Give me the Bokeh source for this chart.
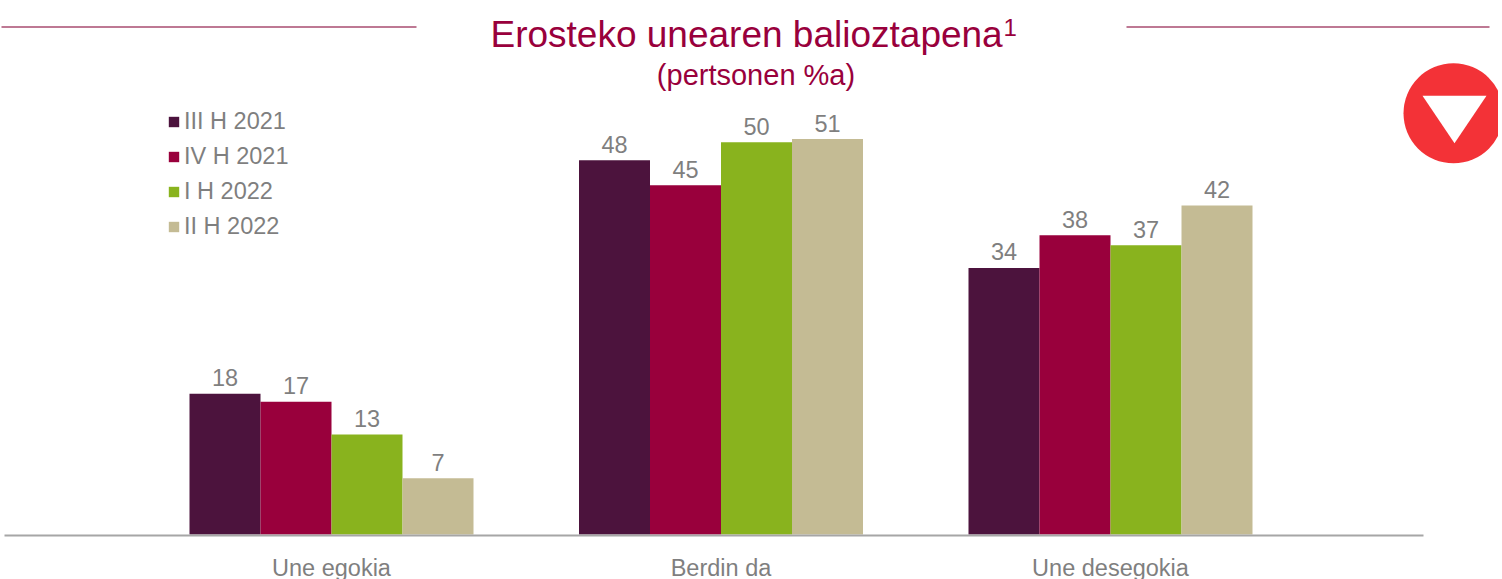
from bokeh.plotting import figure
from bokeh.models import ColumnDataSource, Range1d, FixedTicker, Legend, LegendItem
from bokeh.core.properties import value
from bokeh.embed import file_html
from bokeh.resources import INLINE

categories = ["Une egokia", "Berdin da", "Une desegokia"]
series_names = ["III H 2021", "IV H 2021", "I H 2022", "II H 2022"]
s_iii_2021 = [18.0, 47.9, 34.1]
s_iv_2021 = [17.0, 44.7, 38.3]
s_i_2022 = [12.8, 50.2, 37.0]
s_ii_2022 = [7.2, 50.6, 42.1]
title_text = "Erosteko unearen balioztapena"
sup_text = "1"
subtitle_text = "(pertsonen %a)"

all_series = [s_iii_2021, s_iv_2021, s_i_2022, s_ii_2022]
colors = ["#4C133D", "#99003C", "#89B31E", "#C4BB94"]
FONT = "Liberation Sans"
GREY = "#7F7F7F"
TITLE = "#99003C"
W, H = 1502, 587
BASE = 540
ZERO_PX = 539
PX_PER_VAL = 7.83
CAT0 = 335
STEP = 389.5
BAR = 71

def X(px):
    return (px - CAT0) / STEP

def Y(py):
    return (ZERO_PX - py) / PX_PER_VAL

p = figure(width=W, height=H, output_backend="svg", toolbar_location=None,
           x_range=Range1d(X(0), X(W)), y_range=Range1d(Y(BASE), Y(0)),
           min_border=0, min_border_left=0, min_border_right=0, min_border_top=0,
           min_border_bottom=H - BASE, outline_line_color=None, margin=(-4, -4, -8, -4))
p.yaxis.visible = False
p.grid.visible = False
ax = p.xaxis[0]
ax.ticker = FixedTicker(ticks=[0, 1, 2])
ax.major_label_overrides = {i: c for i, c in enumerate(categories)}
ax.bounds = (X(8), X(1427))
ax.axis_line_color = "#A6A6A6"
ax.axis_line_width = 2
ax.major_tick_line_color = None
ax.minor_tick_line_color = None
ax.major_label_text_font = FONT
ax.major_label_text_font_size = "23.5px"
ax.major_label_text_color = GREY
ax.major_label_standoff = 13

bw = BAR / STEP
items = []
for j, (name, vals, col) in enumerate(zip(series_names, all_series, colors)):
    xs = [i + (j - 1.5) * bw for i in range(len(categories))]
    src = ColumnDataSource(dict(x=xs, top=vals, label=[f"{v:.0f}" for v in vals]))
    r = p.vbar(x="x", top="top", bottom=0, width=bw, source=src, fill_color=col, line_color=None)
    p.text(x="x", y="top", text="label", source=src, text_font=value(FONT), text_font_size="23.5px",
           text_color=GREY, text_align="center", text_baseline="alphabetic", y_offset=-16)
    items.append(LegendItem(label=name, renderers=[r]))

leg = Legend(items=items, location=(171, BASE - 245), orientation="vertical",
             border_line_color=None, background_fill_alpha=0, padding=0, margin=0, spacing=8,
             glyph_width=13, glyph_height=13, label_standoff=4, label_height=20,
             label_text_font=FONT, label_text_font_size="23.5px", label_text_color=GREY)
p.add_layout(leg, "center")

def header(txt, px, py, size, align):
    p.text(x=[X(px)], y=[Y(py)], text=[txt], text_font=value(FONT), text_font_size=size,
           text_color=TITLE, text_align=align, text_baseline="alphabetic")

header(title_text, 494, 38, "37px", "left")
header(sup_text, 1007, 31, "24px", "left")
header(subtitle_text, 759.5, 79, "29px", "center")
for a, b in [(5, 420), (1130, 1493)]:
    p.line(x=[X(a), X(b)], y=[Y(30.5), Y(30.5)], line_color="#A84D70", line_width=1.5)

p.scatter(x=[X(1457)], y=[Y(117)], size=100, marker="circle", fill_color="#F33237", line_color=None)
p.patch(x=[X(1426), X(1490), X(1458)], y=[Y(99.5), Y(99.5), Y(147)], fill_color="#FFFFFF", line_color=None)

open("out.html", "w").write(file_html(p, INLINE))
